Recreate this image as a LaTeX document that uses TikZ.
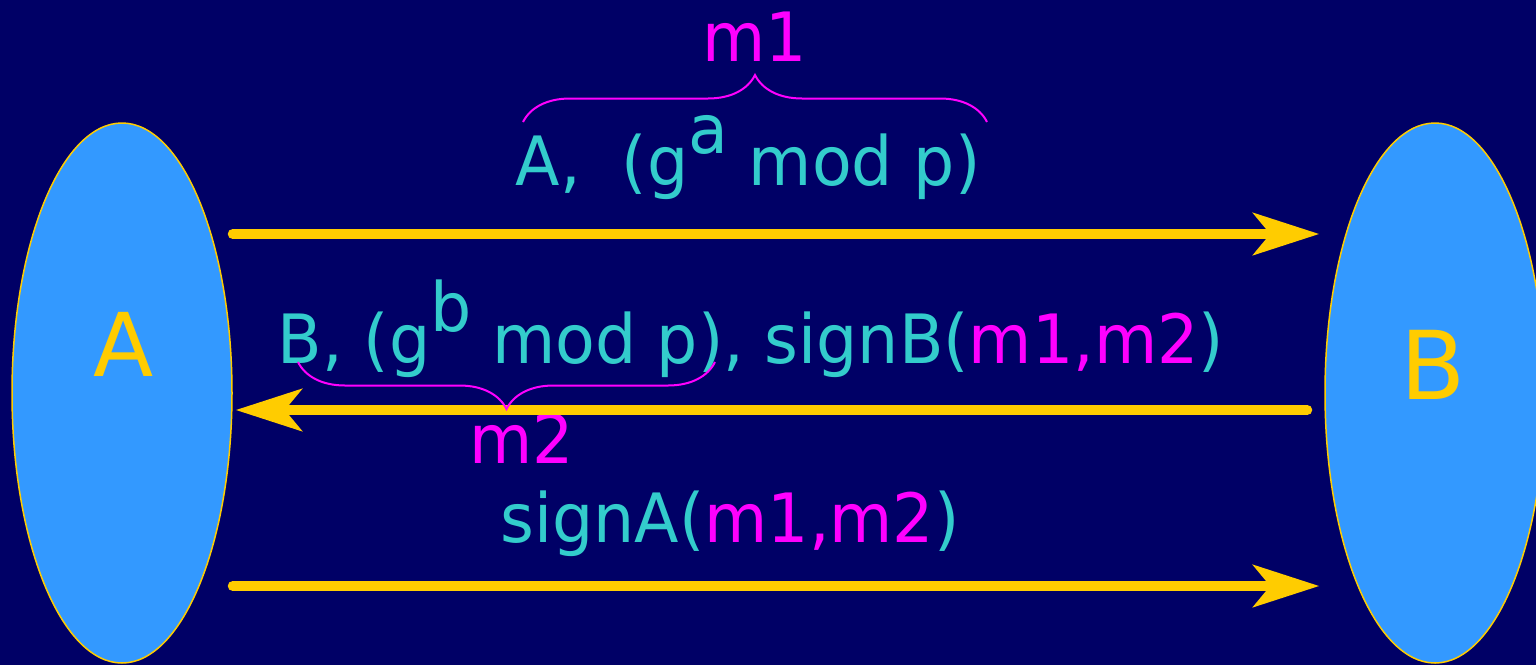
\documentclass[tikz,border=0pt]{standalone}
\usepackage{fontspec}
\setmainfont{DejaVu Sans}
\newfontfamily\msgfont[FakeStretch=0.955]{DejaVu Sans}
\usepackage{xcolor}
\usetikzlibrary{shapes.geometric, arrows.meta, decorations.pathreplacing}
\definecolor{navybg}{RGB}{0,0,102}
\definecolor{partyblue}{RGB}{51,153,255}
\definecolor{gold}{RGB}{255,204,0}
\definecolor{msgteal}{RGB}{51,204,204}
\definecolor{msgmag}{RGB}{255,0,255}
\newcommand{\raisedsup}[1]{\raisebox{0.46em}{#1}}
\newcommand{\msgm}[1]{\textcolor{msgmag}{#1}}

\begin{document}
\begin{tikzpicture}[x=1pt, y=-1pt,
    party/.style={ellipse, draw=gold, line width=1.5pt, fill=partyblue, minimum width=220pt, minimum height=540pt, inner sep=0pt},
    partylabel/.style={text=gold, inner sep=0pt, anchor=base},
    msg/.style={text=msgteal, font=\msgfont\fontsize{68}{80}\selectfont, inner sep=0pt, anchor=base},
    arrow/.style={draw=gold, line width=10pt, line cap=round, -{Stealth[length=66pt, width=42pt, inset=17pt]}},
    bracket/.style={draw=msgmag, line width=2pt, decorate, decoration={brace, amplitude=47pt}}
]
\useasboundingbox[fill=navybg] (0,0) rectangle (1536,665);

% the two parties
\node[party] (A) at (122,393) {};
\node[party] (B) at (1435,393) {};
\node[partylabel, font=\fontsize{88}{90}\selectfont] (Alab) at (124,376) {A};
\node[partylabel, font=\fontsize{95}{100}\selectfont] (Blab) at (1433,399) {B};

% messages
\node[msg] (msg1) at (748,185) {A,\ \ (g\raisedsup{a} mod p)};
\node[msg, text=msgmag] (m1) at (755,61) {m1};
\node[msg] (msg2) at (751,363) {B, (g\raisedsup{b} mod p), signB(\msgm{m1,m2})};
\node[msg, text=msgmag] (m2) at (522,463) {m2};
\node[msg] (msg3) at (730,542) {signA(\msgm{m1,m2})};

\coordinate (r1) at (0,234);
\coordinate (r2) at (0,410);
\coordinate (r3) at (0,586);
\coordinate (Ain) at ([xshift=3pt]A.east);
\coordinate (Bin) at ([xshift=-5pt]B.west);
\coordinate (Bout) at ([xshift=-17pt]B.west);

\draw[arrow] (A.east |- r1) -- (Bin |- r1);
\draw[arrow] (Bout |- r2) -- (Ain |- r2);
\draw[arrow] (A.east |- r3) -- (Bin |- r3);

% braces over the parts of the messages
\coordinate (b1s) at (523,122);
\coordinate (b1e) at (987,122);
\coordinate (b2s) at (298,362);
\coordinate (b2e) at (715,362);
\draw[bracket] (b1s) -- (b1e);
\draw[bracket] (b2e) -- (b2s);
\end{tikzpicture}
\end{document}
